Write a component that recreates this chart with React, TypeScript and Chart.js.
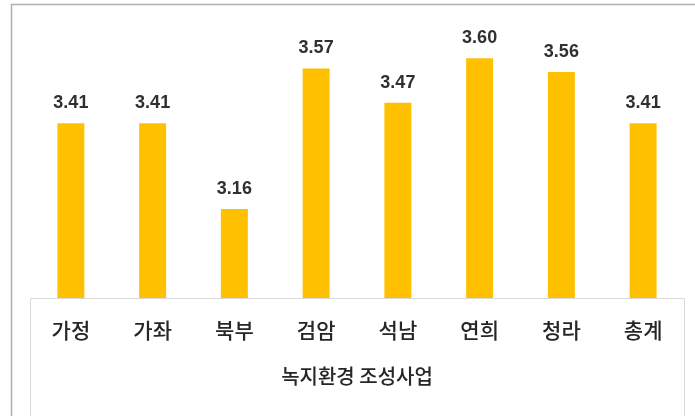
import React, { useEffect, useRef } from "react";
import { Chart, registerables } from "chart.js";

Chart.register(...registerables);

const categories = ["가정", "가좌", "북부", "검암", "석남", "연희", "청라", "총계"];
const values = [3.41, 3.41, 3.16, 3.57, 3.47, 3.6, 3.56, 3.41];
const axisTitle = "녹지환경 조성사업";
const yMin = 2.9;
const yMax = 3.7;

const framePlugin = {
  id: "frame",
  beforeDraw(chart: any) {
    const { ctx, chartArea, width, height } = chart;
    ctx.save();
    ctx.strokeStyle = "#b0b0b0";
    ctx.lineWidth = 1.5;
    ctx.beginPath();
    ctx.moveTo(11.5, height);
    ctx.lineTo(11.5, 4.5);
    ctx.lineTo(width, 4.5);
    ctx.stroke();
    ctx.strokeStyle = "#d9d9d9";
    ctx.lineWidth = 1;
    ctx.beginPath();
    ctx.moveTo(chartArea.left + 0.5, height);
    ctx.lineTo(chartArea.left + 0.5, chartArea.bottom + 0.5);
    ctx.lineTo(chartArea.right + 0.5, chartArea.bottom + 0.5);
    ctx.lineTo(chartArea.right + 0.5, height);
    ctx.stroke();
    ctx.restore();
  },
};

const labelPlugin = {
  id: "valueLabels",
  afterDatasetsDraw(chart: any) {
    const { ctx } = chart;
    const meta = chart.getDatasetMeta(0);
    ctx.save();
    ctx.font = "bold 18px 'Liberation Sans', Arial, sans-serif";
    ctx.fillStyle = "#303030";
    ctx.textAlign = "center";
    ctx.textBaseline = "bottom";
    meta.data.forEach((bar: any, i: number) => {
      ctx.fillText(values[i].toFixed(2), bar.x, bar.y - 11);
    });
    ctx.restore();
  },
};

export default function App() {
  const ref = useRef<HTMLCanvasElement>(null);

  useEffect(() => {
    if (!ref.current) return;
    const chart = new Chart(ref.current, {
      type: "bar",
      data: {
        labels: categories,
        datasets: [
          {
            data: values,
            backgroundColor: "#FFC000",
            borderWidth: 0,
            barPercentage: 0.33,
            categoryPercentage: 1,
          },
        ],
      },
      options: {
        animation: false,
        responsive: false,
        maintainAspectRatio: false,
        layout: { padding: { top: 24, left: 30, right: 11, bottom: 0 } },
        plugins: {
          legend: { display: false },
          tooltip: { enabled: false },
        },
        scales: {
          y: { display: false, min: yMin, max: yMax },
          x: {
            grid: { display: false, drawTicks: false },
            border: { display: false },
            ticks: {
              padding: 19,
              color: "#262626",
              font: { family: "'Noto Sans CJK KR', sans-serif", size: 21, weight: "500" },
            },
            title: {
              display: true,
              text: axisTitle,
              color: "#262626",
              font: { family: "'Noto Sans CJK KR', sans-serif", size: 20, weight: "500", lineHeight: 1.2 },
              padding: { top: 28, bottom: 28 },
            },
            afterFit(scale: any) {
              scale.height = 118;
            },
          },
        },
      },
      plugins: [framePlugin, labelPlugin],
    });
    return () => chart.destroy();
  }, []);

  return (
    <div style={{ position: "fixed", left: 0, top: 0, width: 695, height: 416, background: "#fff" }}>
      <canvas ref={ref} width={695} height={416} style={{ width: 695, height: 416 }} />
    </div>
  );
}
